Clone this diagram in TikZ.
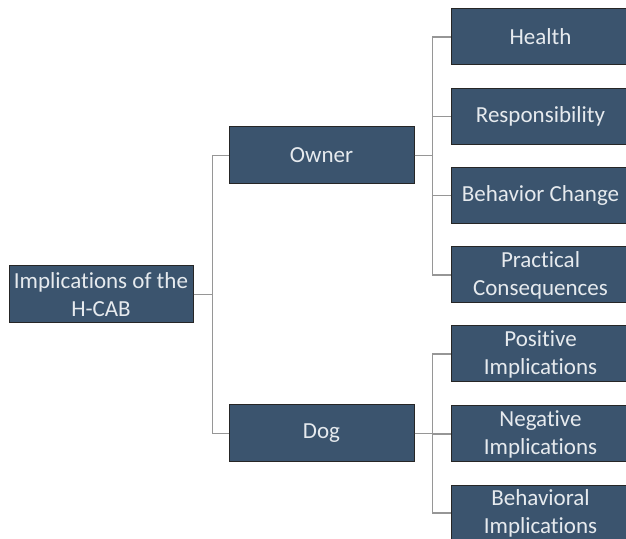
\documentclass[tikz,border=0pt]{standalone}
\usepackage{fontspec}
\setmainfont{Carlito}[Ligatures=NoCommon]
\usetikzlibrary{calc,positioning}
\definecolor{boxblue}{RGB}{59,84,110}
\definecolor{boxtext}{RGB}{230,234,238}
\definecolor{linegray}{RGB}{150,150,150}

\begin{document}
\begin{tikzpicture}[x=1pt,y=1pt,
  box/.style={draw=black!85,line width=1pt,fill=boxblue,text=boxtext,
    minimum width=184pt,minimum height=57pt,inner sep=0pt,align=center,
    font=\fontsize{23}{28}\selectfont},
  leaf/.style={box,minimum width=179pt,minimum height=56pt},
  link/.style={draw=linegray,line width=1.1pt}]
\useasboundingbox (0,0) rectangle (626,538);
\clip (0,0) rectangle (626,538);
% root and the two groups
\node[box] (root) at (101,243.5) {Implications of the\\H-CAB};
\node[box,minimum width=185pt] (owner) at (321.5,382.5) {Owner};
\node[box,minimum width=185pt] (dog) at (321.5,104.5) {Dog};
% owner side
\node[leaf] (health) at (540.5,501) {Health};
\node[leaf] (resp) at (540.5,421.5) {Responsibility};
\node[leaf] (change) at (540.5,342.5) {Behavior Change};
\node[leaf] (pract) at (540.5,263) {Practical\\Consequences};
% dog side
\node[leaf] (pos) at (540.5,184) {Positive\\Implications};
\node[leaf] (neg) at (540.5,104) {Negative\\Implications};
\node[leaf] (behav) at (540.5,25) {Behavioral\\Implications};
% connectors
\draw[link] (root.east) -| ([xshift=-16pt]owner.west) -- (owner.west);
\draw[link] (root.east) -| ([xshift=-16pt]dog.west) -- (dog.west);
\foreach \n in {health,resp,change,pract}
  \draw[link] (owner.east) -| ([xshift=-18pt]\n.west) -- (\n.west);
\foreach \n in {pos,neg,behav}
  \draw[link] (dog.east) -| ([xshift=-18pt]\n.west) -- (\n.west);
\end{tikzpicture}
\end{document}
